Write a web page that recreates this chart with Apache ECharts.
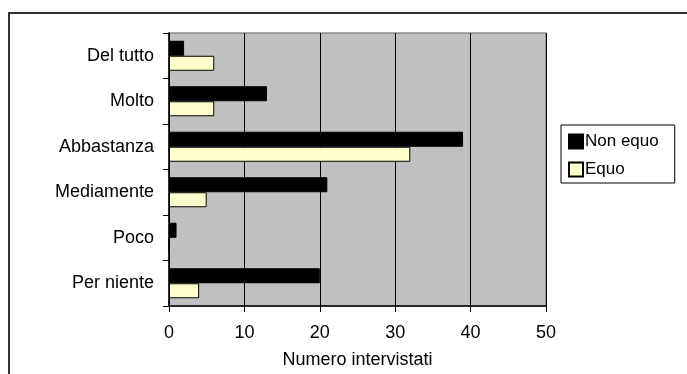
<!DOCTYPE html>
<html>
<head>
<meta charset="utf-8">
<script src="https://cdn.jsdelivr.net/npm/echarts@6/dist/echarts.min.js"></script>
<style>
  html, body { margin: 0; padding: 0; background: #ffffff; }
  #chart { width: 687px; height: 374px; }
</style>
</head>
<body>
<div id="chart"></div>
<script>
// Response categories, listed top to bottom
const categories = ['Del tutto', 'Molto', 'Abbastanza', 'Mediamente', 'Poco', 'Per niente'];
// Number of respondents per answer
const nonEquo = [2, 13, 39, 21, 1, 20];
const equo = [6, 6, 32, 5, 0, 4];
const xTicks = [0, 10, 20, 30, 40, 50];

const FONT = '"Liberation Sans", Arial, sans-serif';

const chart = echarts.init(document.getElementById('chart'), null, { renderer: 'canvas' });

chart.setOption({
  animation: false,
  backgroundColor: '#ffffff',
  textStyle: { fontFamily: FONT, color: '#000' },
  graphic: [{
    type: 'rect',
    shape: { x: 9, y: 13, width: 720, height: 420 },
    style: { fill: 'none', stroke: '#333333', lineWidth: 2 },
    silent: true,
    z: -10
  }],
  grid: {
    left: 169, right: 141, top: 33, bottom: 68,
    show: true,
    backgroundColor: '#c0c0c0',
    borderColor: '#8a8a8a',
    borderWidth: 1.5
  },
  legend: {
    orient: 'vertical',
    left: 561, top: 125,
    padding: [8, 16, 5, 7],
    itemGap: 11,
    itemWidth: 14, itemHeight: 14,
    borderColor: '#000', borderWidth: 1,
    backgroundColor: '#ffffff',
    textStyle: { fontFamily: FONT, fontSize: 17, color: '#000', padding: [0, 0, 0, -3] },
    data: [
      { name: 'Non equo', icon: 'rect' },
      { name: 'Equo', icon: 'rect' }
    ]
  },
  xAxis: {
    type: 'value',
    min: xTicks[0], max: xTicks[xTicks.length - 1], interval: 10,
    name: 'Numero intervistati',
    nameLocation: 'middle',
    nameGap: 45,
    nameTextStyle: { fontFamily: FONT, fontSize: 18, color: '#000' },
    axisLine: { show: true, lineStyle: { color: '#000', width: 1.5 } },
    axisTick: { show: true, length: 6, lineStyle: { color: '#000' } },
    axisLabel: { fontFamily: FONT, fontSize: 18, color: '#000', margin: 18 },
    splitLine: { show: true, lineStyle: { color: '#000', width: 1 } }
  },
  yAxis: {
    type: 'category',
    inverse: true,
    data: categories,
    axisLine: { show: true, lineStyle: { color: '#000', width: 1.5 } },
    axisTick: { show: true, length: 6, alignWithLabel: false, lineStyle: { color: '#000' } },
    axisLabel: { fontFamily: FONT, fontSize: 18, color: '#000', margin: 15 },
    splitLine: { show: false }
  },
  series: [
    {
      name: 'Non equo',
      type: 'bar',
      data: nonEquo,
      barGap: '0%',
      barCategoryGap: '34%',
      itemStyle: { color: '#000000', borderColor: '#000', borderWidth: 1 }
    },
    {
      name: 'Equo',
      type: 'bar',
      data: equo,
      itemStyle: { color: '#ffffcc', borderColor: '#000', borderWidth: 1 }
    }
  ]
});
</script>
</body>
</html>
